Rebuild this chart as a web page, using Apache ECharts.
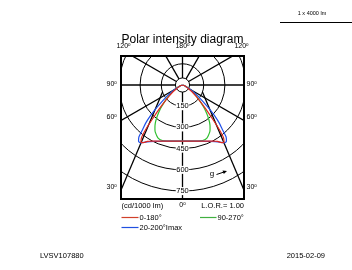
<!DOCTYPE html>
<html>
<head>
<meta charset="utf-8">
<script src="https://cdn.jsdelivr.net/npm/echarts@6/dist/echarts.min.js"></script>
<style>
  html, body { margin: 0; padding: 0; background: #fff; }
  #main { width: 352px; height: 270px; }
</style>
</head>
<body>
<div id="main"></div>
<script>
// gamma angles (deg from nadir) and intensities in cd/1000 lm
const gammas   = [0, 5, 10, 15, 20, 25, 30, 32, 34, 36, 38, 40, 42, 44, 46, 48, 50, 55, 60, 65, 70, 75, 80, 85, 90];
const c0_180   = [397, 399, 403, 411, 423, 438, 459, 470, 492, 500, 470, 390, 300, 240, 190, 155, 128, 80, 45, 25, 12, 6, 3, 1, 0];
const c90_270  = [397, 399, 403, 410, 418, 412, 385, 368, 348, 325, 298, 270, 242, 212, 185, 160, 140, 95, 60, 35, 18, 8, 3, 1, 0];
const c20_200  = [397, 399, 403, 411, 423, 440, 462, 475, 490, 505, 505, 480, 420, 375, 320, 265, 210, 125, 65, 32, 15, 7, 3, 1, 0];

const rings = [50, 150, 300, 450, 600, 750];
const ringLabels = [150, 300, 450, 600, 750];
const spokeAngles = [0, 60, 90, 120, 150, 180, 210, 240, 270, 300];
// "g" lines, right side (mirrored to the left), in cd/1000 lm units
const gLine = [[141, -50], [620, -1180]];
const topLabels = ['120', '180', '120'];
const sideLabels = ['90', '60', '30'];

const FONT = 'Liberation Sans, Arial, sans-serif';
const rad = d => d * Math.PI / 180;

// left half = opposite plane (mirrored), right half = first plane
function curve(vals) {
  const pts = [];
  for (let i = gammas.length - 1; i >= 0; i--) {
    const g = rad(gammas[i]);
    pts.push([-vals[i] * Math.sin(g), -vals[i] * Math.cos(g)]);
  }
  for (let i = 1; i < gammas.length; i++) {
    const g = rad(gammas[i]);
    pts.push([vals[i] * Math.sin(g), -vals[i] * Math.cos(g)]);
  }
  return pts;
}

const chart = echarts.init(document.getElementById('main'));

function degText(n, x, y, align) {
  return {
    type: 'text', x: x, y: y,
    style: {
      text: '{n|' + n + '}{d|o}', align: align, verticalAlign: 'middle',
      rich: {
        n: { fontSize: 7, fontFamily: FONT, fill: '#000' },
        d: { fontSize: 4.5, fontFamily: FONT, fill: '#000', verticalAlign: 'top', padding: [0, 0, 3, 0] }
      }
    }
  };
}

const graphics = [
  { type: 'text', x: 312, y: 13, style: { text: '1 x 4000 lm', font: '5.5px ' + FONT, fill: '#000', align: 'center', verticalAlign: 'middle' } },
  { type: 'line', shape: { x1: 280, y1: 22.5, x2: 352, y2: 22.5 }, style: { stroke: '#000', lineWidth: 1 } },
  { type: 'text', x: 182.5, y: 39.5, style: { text: 'Polar intensity diagram', font: '12px ' + FONT, fill: '#000', align: 'center', verticalAlign: 'middle' } },
  degText(topLabels[0], 123.5, 46.5, 'center'),
  degText(topLabels[1], 182.5, 46.5, 'center'),
  degText(topLabels[2], 241.5, 46.5, 'center'),
  degText(sideLabels[0], 106.5, 84.5, 'left'),
  degText(sideLabels[0], 246.5, 84.5, 'left'),
  degText(sideLabels[1], 106.5, 117.5, 'left'),
  degText(sideLabels[1], 246.5, 117.5, 'left'),
  degText(sideLabels[2], 106.5, 187.5, 'left'),
  degText(sideLabels[2], 246.5, 187.5, 'left'),
  { type: 'text', x: 121.5, y: 205.5, style: { text: '(cd/1000 lm)', font: '7.5px ' + FONT, fill: '#000', align: 'left', verticalAlign: 'middle' } },
  degText('0', 182.5, 205.5, 'center'),
  { type: 'text', x: 244, y: 205.5, style: { text: 'L.O.R.= 1.00', font: '7.5px ' + FONT, fill: '#000', align: 'right', verticalAlign: 'middle' } },
  { type: 'line', shape: { x1: 121.5, y1: 217.5, x2: 138.5, y2: 217.5 }, style: { stroke: '#d0402a', lineWidth: 1.2 } },
  { type: 'text', x: 139.5, y: 217.5, style: { text: '0-180°', font: '7.5px ' + FONT, fill: '#000', align: 'left', verticalAlign: 'middle' } },
  { type: 'line', shape: { x1: 200, y1: 217.5, x2: 216.5, y2: 217.5 }, style: { stroke: '#40b040', lineWidth: 1.2 } },
  { type: 'text', x: 217.5, y: 217.5, style: { text: '90-270°', font: '7.5px ' + FONT, fill: '#000', align: 'left', verticalAlign: 'middle' } },
  { type: 'line', shape: { x1: 121.5, y1: 227.5, x2: 138.5, y2: 227.5 }, style: { stroke: '#2050e0', lineWidth: 1.2 } },
  { type: 'text', x: 139.5, y: 227.5, style: { text: '20-200°Imax', font: '7.5px ' + FONT, fill: '#000', align: 'left', verticalAlign: 'middle' } },
  { type: 'text', x: 212, y: 173.5, style: { text: 'g', font: '8px ' + FONT, fill: '#000', align: 'center', verticalAlign: 'middle' } },
  { type: 'line', shape: { x1: 216.5, y1: 174.5, x2: 224, y2: 172 }, style: { stroke: '#000', lineWidth: 1 } },
  { type: 'polygon', shape: { points: [[227, 171], [222.5, 170.5], [223.8, 174]] }, style: { fill: '#000' } },
  { type: 'text', x: 40, y: 256, style: { text: 'LVSV107880', font: '7.5px ' + FONT, fill: '#000', align: 'left', verticalAlign: 'middle' } },
  { type: 'text', x: 325, y: 256, style: { text: '2015-02-09', font: '7.5px ' + FONT, fill: '#000', align: 'right', verticalAlign: 'middle' } }
];

const lineSeries = (name, vals, color) => ({
  name: name,
  type: 'line',
  data: curve(vals),
  showSymbol: false,
  smooth: 0.2,
  clip: false,
  silent: true,
  lineStyle: { color: color, width: 1.2 },
  z: 5
});

chart.setOption({
  animation: false,
  grid: { left: 121, top: 56, width: 123, height: 143, show: true, borderColor: '#000', borderWidth: 2, backgroundColor: 'transparent' },
  xAxis: { type: 'value', min: -435, max: 435, show: false },
  yAxis: { type: 'value', min: -806, max: 205, show: false },
  graphic: graphics,
  series: [
    {
      type: 'custom', coordinateSystem: 'cartesian2d', clip: true, silent: true,
      data: spokeAngles.map(a => [0, 0, a]),
      renderItem: function (params, api) {
        const a = rad(api.value(2));
        const p0 = api.coord([50 * Math.sin(a), -50 * Math.cos(a)]);
        const p1 = api.coord([2000 * Math.sin(a), -2000 * Math.cos(a)]);
        return { type: 'line', shape: { x1: p0[0], y1: p0[1], x2: p1[0], y2: p1[1] }, style: { stroke: '#000', lineWidth: 1.3 } };
      }
    },
    {
      type: 'custom', coordinateSystem: 'cartesian2d', clip: true, silent: true,
      data: [1, -1].map(s => [s, 0]),
      renderItem: function (params, api) {
        const s = api.value(0);
        const p0 = api.coord([s * gLine[0][0], gLine[0][1]]);
        const p1 = api.coord([s * gLine[1][0], gLine[1][1]]);
        return { type: 'line', shape: { x1: p0[0], y1: p0[1], x2: p1[0], y2: p1[1] }, style: { stroke: '#000', lineWidth: 1.3 } };
      }
    },
    {
      type: 'custom', coordinateSystem: 'cartesian2d', clip: true, silent: true,
      data: rings.map(r => [0, 0, r]),
      renderItem: function (params, api) {
        const c = api.coord([0, 0]);
        const r = api.size([api.value(2), 0])[0];
        return { type: 'circle', shape: { cx: c[0], cy: c[1], r: r }, style: { fill: 'none', stroke: '#000', lineWidth: 1 } };
      }
    },
    {
      type: 'custom', coordinateSystem: 'cartesian2d', clip: true, silent: true,
      data: ringLabels.map(r => [0, -r]),
      renderItem: function (params, api) {
        const p = api.coord([api.value(0), api.value(1)]);
        return {
          type: 'text', x: p[0], y: p[1],
          style: { text: String(-api.value(1)), font: '7.5px ' + FONT, fill: '#000', align: 'center', verticalAlign: 'middle', backgroundColor: '#fff', padding: [0, 0.5] }
        };
      }
    },
    lineSeries('90-270', c90_270, '#30c030'),
    lineSeries('20-200 Imax', c20_200, '#2050e8'),
    lineSeries('0-180', c0_180, '#e0281e')
  ]
});
</script>
</body>
</html>
